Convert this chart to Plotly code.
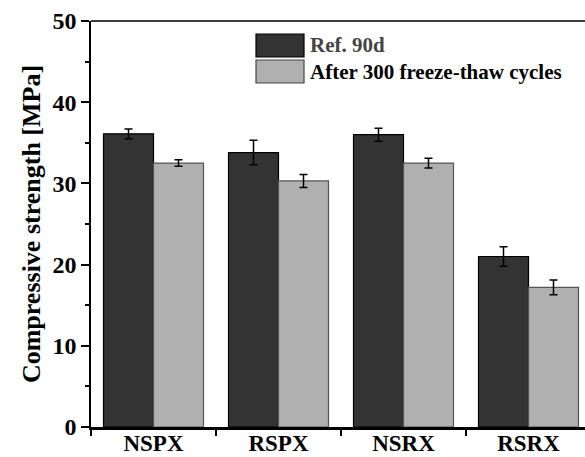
import plotly.graph_objects as go

categories = ["NSPX", "RSPX", "NSRX", "RSRX"]
ref_90d = [36.1, 33.8, 36.0, 21.0]
ref_90d_err = [0.6, 1.5, 0.8, 1.2]
after_ft = [32.5, 30.3, 32.5, 17.2]
after_ft_err = [0.4, 0.8, 0.6, 0.9]
series_names = ["Ref. 90d", "After 300 freeze-thaw cycles"]
y_ticks = [0, 10, 20, 30, 40, 50]

FONT = "Liberation Serif"
dark = "#333333"
light = "#b0b0b0"

fig = go.Figure()
fig.add_trace(go.Bar(
    x=categories, y=ref_90d, name=series_names[0],
    marker=dict(color=dark, line=dict(color="#000000", width=1.2)),
    error_y=dict(type="data", array=ref_90d_err, color="#000000", thickness=1.5, width=4),
))
fig.add_trace(go.Bar(
    x=categories, y=after_ft, name=series_names[1],
    marker=dict(color=light, line=dict(color="#555555", width=1.2)),
    error_y=dict(type="data", array=after_ft_err, color="#000000", thickness=1.5, width=4),
))

# custom legend (large swatches)
legend_items = [(series_names[0], dark, "#000000", "#444444"),
                (series_names[1], light, "#444444", "#000000")]
x0_px, w_px, h_px = 256, 48, 23
tops = [34, 60]
for (name, fill, edge, tcol), top in zip(legend_items, tops):
    fig.add_shape(type="rect", xref="paper", yref="paper",
                  x0=(x0_px - 91) / 494, x1=(x0_px + w_px - 91) / 494,
                  y0=(427 - (top + h_px)) / 406, y1=(427 - top) / 406,
                  fillcolor=fill, line=dict(color=edge, width=1.2))
    fig.add_annotation(xref="paper", yref="paper",
                       x=(x0_px + w_px + 4 - 91) / 494, y=(427 - (top + h_px / 2)) / 406,
                       text="<b>%s</b>" % name, showarrow=False, xanchor="left", yanchor="middle",
                       font=dict(family=FONT, size=21, color=tcol))

fig.update_layout(
    width=585, height=457,
    margin=dict(l=91, r=0, t=21, b=30),
    plot_bgcolor="white", paper_bgcolor="white",
    barmode="group", bargap=0.2, bargroupgap=0,
    showlegend=False,
    font=dict(family=FONT, color="#000000"),
)
fig.update_xaxes(
    range=[-0.5, 3.452], tickson="boundaries", ticks="outside", ticklen=6, tickwidth=1.5,
    tickcolor="#000000", showline=True, linecolor="#000000", linewidth=2.5, mirror=False,
    showgrid=False, tickfont=dict(family=FONT, size=23, color="#000000"),
    tickprefix="<b>", ticksuffix="</b>", automargin=False, ticklabelstandoff=-6,
)
# top frame line
fig.add_shape(type="line", xref="paper", yref="paper", x0=0, x1=1, y0=1, y1=1,
              line=dict(color="#000000", width=1.5))
fig.update_yaxes(
    range=[0, 50], tickvals=y_ticks, ticktext=["<b>%d</b>" % v for v in y_ticks],
    ticks="outside", ticklen=8, tickwidth=1.5, tickcolor="#000000",
    minor=dict(dtick=5, ticks="outside", ticklen=4, tickwidth=1.5, tickcolor="#000000", showgrid=False),
    showline=True, linecolor="#000000", linewidth=1.5, showgrid=False, zeroline=False,
    tickfont=dict(family=FONT, size=24, color="#000000"), automargin=False,
    title=dict(text="<b>Compressive strength [MPa]</b>", font=dict(family=FONT, size=26, color="#000000"), standoff=4),
)

fig.write_html("out.html")
